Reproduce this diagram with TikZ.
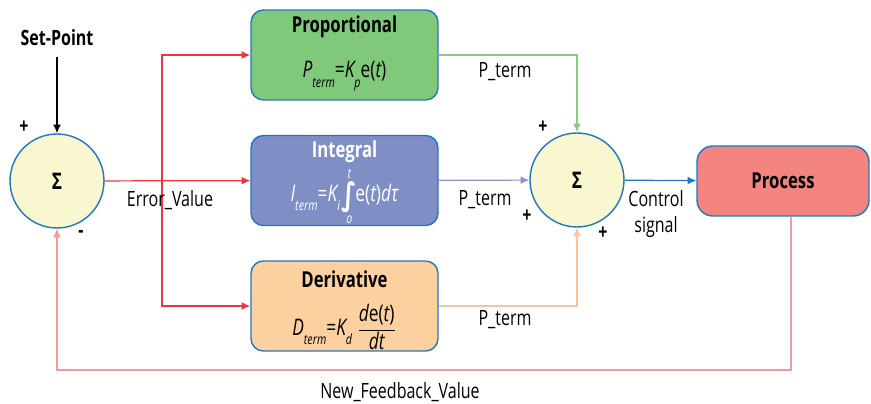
\documentclass[tikz,border=0pt]{standalone}
\usepackage{fontspec}
\setmainfont{Open Sans}[FakeStretch=0.76]
\newfontfamily\intfont{DejaVu Sans}[FakeStretch=0.8]
\usepackage{tikz}
\usetikzlibrary{positioning, arrows.meta, calc}

\definecolor{boxborder}{RGB}{31,119,194}
\definecolor{sumfill}{RGB}{248,247,208}
\definecolor{propfill}{RGB}{128,201,122}
\definecolor{intfill}{RGB}{127,143,198}
\definecolor{derfill}{RGB}{253,208,159}
\definecolor{procfill}{RGB}{244,132,127}
\definecolor{errred}{RGB}{232,56,61}
\definecolor{propline}{RGB}{140,203,132}
\definecolor{intline}{RGB}{154,143,200}
\definecolor{derline}{RGB}{249,195,160}
\definecolor{fbline}{RGB}{242,154,154}

\tikzset{
	sumnode/.style={circle, draw=boxborder, line width=0.8pt, fill=sumfill,
		minimum size=1.88cm, inner sep=0pt, font=\fontsize{13}{15}\selectfont\bfseries}
}
\tikzset{
	pidbox/.style={draw=boxborder, line width=0.8pt, rounded corners=7pt,
		minimum width=3.74cm, minimum height=1.8cm}
}
\tikzset{
	boxtitle/.style={font=\fontsize{12.5}{14}\selectfont\bfseries, inner sep=0pt},
	formula/.style={font=\fontsize{13}{15}\selectfont, inner sep=0pt},
	labeltext/.style={font=\fontsize{12}{14}\selectfont, inner sep=0pt, align=center},
	signtext/.style={font=\fontsize{12}{14}\selectfont\bfseries, inner sep=0pt},
	wire/.style={line width=0.7pt, -{Latex[length=5pt,width=4.5pt]}}
}
\newcommand{\lowsub}[1]{\raisebox{-0.75ex}{\fontsize{8}{9}\selectfont\itshape #1}}
\newcommand{\limtext}[1]{\mbox{\fontsize{8}{9}\selectfont\itshape #1}}

\begin{document}
\begin{tikzpicture}[x=0.02cm, y=-0.02cm]
      \useasboundingbox (0,0) rectangle (871,404);

      % summing junctions
      \node[sumnode] (sumin) at (57,181) {Σ};
      \node[sumnode] (sumout) at (577,180) {Σ};

      % P, I and D blocks
      \node[pidbox, fill=propfill] (prop) at (344.5,55) {};
      \node[pidbox, fill=intfill] (integ) at (344.5,180.5) {};
      \node[pidbox, fill=derfill] (deriv) at (344.5,306) {};
      \node[boxtitle] (prop-t) at (344.5,27) {Proportional};
      \node[boxtitle, text=white] (integ-t) at (344.5,152) {Integral};
      \node[boxtitle] (deriv-t) at (344.5,279) {Derivative};
      \node[formula] (prop-f) at (344.5,76)
        {\itshape P\lowsub{term}\upshape=\itshape K\lowsub{p}\upshape e(\itshape t\upshape)};
      \node[formula, text=white] (integ-f) at (344.5,196)
        {\itshape I\lowsub{term}\upshape=\itshape K\lowsub{i}\upshape\hspace{1pt}%
         $\mathop{\mbox{\raisebox{-0.3ex}{\intfont\bfseries\fontsize{18}{18}\selectfont ∫}}}\limits_{\limtext{o}}^{\limtext{t}}$%
         \hspace{-1pt}e(\itshape t\upshape)\itshape dτ};
      \node[formula] (deriv-f) at (344.5,327)
        {\itshape D\lowsub{term}\upshape=\itshape K\lowsub{d}\upshape\
         $\displaystyle\frac{\mbox{\itshape d\upshape e(\itshape t\upshape)}}{\mbox{\itshape dt}}$};

      % plant
      \node[draw=boxborder, line width=0.8pt, rounded corners=9pt, fill=procfill,
        minimum width=3.44cm, minimum height=1.4cm, font=\fontsize{12.5}{14}\selectfont\bfseries]
        (proc) at (783,181) {Process};

      % reference input
      \node[font=\fontsize{12}{14}\selectfont\bfseries, inner sep=0pt] (sp) at (57,38) {Set-Point};
      \draw[wire, black, shorten <=6pt] (sp) -- (sumin);

      % error signal to the three terms
      \coordinate (split) at (162,181);
      \draw[wire, errred] (sumin) -- (integ);
      \draw[wire, errred] (split) |- (prop.west);
      \draw[wire, errred] (split) |- (deriv.west);

      % terms into the output junction
      \draw[wire, propline] (prop.east) -| (sumout.north);
      \draw[wire, intline] (integ) -- (sumout);
      \draw[wire, derline] (deriv.east) -| (sumout.south);
      \draw[wire, boxborder] (sumout) -- (proc);

      % feedback path
      \coordinate (fb) at (791,370);
      \draw[wire, fbline] (proc.south -| fb) -- (fb) -| (sumin.south);

      % labels
      \node[labeltext] (errlbl) at (170,200) {Error\_Value};
      \node[labeltext] (plbl) at (505,72) {P\_term};
      \node[labeltext] (ilbl) at (485,200) {P\_term};
      \node[labeltext] (dlbl) at (505,320) {P\_term};
      \node[labeltext] (ctl) at (656,214) {Control\\[1pt]signal};
      \node[labeltext] (fblbl) at (400,392) {New\_Feedback\_Value};

      % junction signs
      \foreach \x/\y/\s [count=\i] in {24/127/+, 81/234/-, 543/127/+, 527/216/+, 603/233/+}
        \node[signtext] (sign\i) at (\x,\y) {\s};
    \end{tikzpicture}
\end{document}
